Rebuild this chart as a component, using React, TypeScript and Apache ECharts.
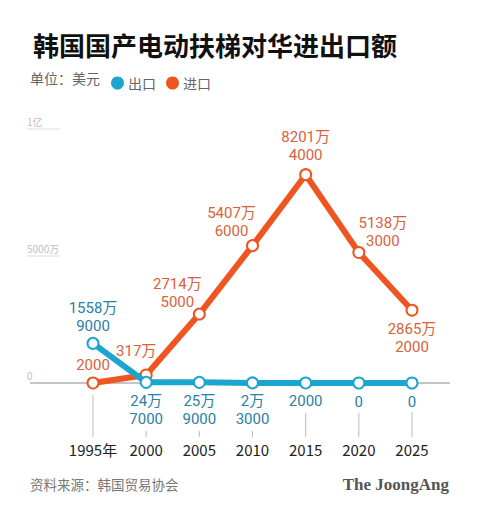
import React, { useEffect, useRef } from "react";
import * as echarts from "echarts";

const years = ["1995", "2000", "2005", "2010", "2015", "2020", "2025"];
const yearTickLabels = ["1995年", "2000", "2005", "2010", "2015", "2020", "2025"];
const exportValues = [15589000, 247000, 259000, 23000, 2000, 0, 0];
const importValues = [2000, 3170000, 27145000, 54076000, 82014000, 51383000, 28652000];
const yTicks = [0, 50000000, 100000000];
const yTickText = ["0", "5000万", "1亿"];

const EXPORT_NAME = "出口";
const IMPORT_NAME = "进口";
const BLUE = "#1ba5cf";
const ORANGE = "#ef5520";
const BLUE_TEXT = "#2a80a6";
const ORANGE_TEXT = "#d9613a";
const FONT = '"Noto Sans CJK SC", "Noto Sans", sans-serif';
const LABEL_FONT = 'Roboto, "Noto Sans CJK SC", sans-serif';

// label placement (layout only)
const exportLabelLayout = [
  { position: "top", distance: 2, offset: [0, 0] },
  { position: "bottom", distance: 3, offset: [0, 0] },
  { position: "bottom", distance: 3, offset: [0, 0] },
  { position: "bottom", distance: 3, offset: [0, 0] },
  { position: "bottom", distance: 3, offset: [0, 0] },
  { position: "bottom", distance: 3, offset: [0, 0] },
  { position: "bottom", distance: 3, offset: [0, 0] },
];
const importLabelLayout = [
  { position: "top", distance: 2, offset: [0, 0] },
  { position: "top", distance: 2, offset: [-10, -6] },
  { position: "top", distance: 2, offset: [-22, 5] },
  { position: "top", distance: 2, offset: [-21, 3] },
  { position: "top", distance: 2, offset: [0, -2] },
  { position: "top", distance: 2, offset: [24, 6] },
  { position: "bottom", distance: 3, offset: [0, 0] },
];
// top of the connector line under each year (layout only)
const connectorTop = [395, 431, 431, 431, 413, 413, 412];

function fmt(v: number): string {
  if (v >= 10000) {
    const w = Math.floor(v / 10000);
    const r = v % 10000;
    return r ? `${w}万\n${r}` : `${w}万`;
  }
  return String(v);
}

function buildData(values: number[], layout: any[], color: string) {
  return values.map((v, i) => ({
    value: v,
    label: {
      show: true,
      position: layout[i].position,
      distance: layout[i].distance,
      offset: layout[i].offset,
      color,
      fontSize: 15,
      lineHeight: 18,
      fontFamily: LABEL_FONT,
      formatter: (p: any) => fmt(p.value),
    },
  }));
}

export default function App() {
  const ref = useRef<HTMLDivElement>(null);
  useEffect(() => {
    if (!ref.current) return;
    const chart = echarts.init(ref.current, null, { renderer: "svg" });
    chart.setOption({
      animation: false,
      backgroundColor: "#ffffff",
      textStyle: { fontFamily: FONT },
      title: {
        text: "韩国国产电动扶梯对华进出口额",
        left: 28,
        top: 26,
        textStyle: { fontSize: 26, fontWeight: "bold", color: "#111", fontFamily: FONT },
      },
      legend: {
        left: 106,
        top: 71,
        icon: "circle",
        itemWidth: 13,
        itemHeight: 13,
        itemGap: 10,
        selectedMode: false,
        textStyle: { color: "#666", fontSize: 14, fontFamily: FONT, padding: [0, 0, 0, -1] },
        data: [
          { name: EXPORT_NAME, itemStyle: { color: BLUE, borderWidth: 0 } },
          { name: IMPORT_NAME, itemStyle: { color: ORANGE, borderWidth: 0 } },
        ],
      },
      grid: { left: 93, right: 68, top: 129, bottom: 128 },
      xAxis: {
        type: "category",
        data: years,
        boundaryGap: false,
        axisLine: { show: false },
        axisTick: { show: false },
        axisLabel: {
          interval: 0,
          margin: 59,
          fontSize: 15,
          color: "#222",
          fontFamily: FONT,
          formatter: (_v: string, i: number) => yearTickLabels[i],
        },
        splitLine: { show: false },
      },
      yAxis: {
        type: "value",
        min: 0,
        max: 100000000,
        interval: 50000000,
        axisLine: { show: false },
        axisTick: { show: false },
        splitLine: { show: false },
        axisLabel: {
          align: "left",
          verticalAlign: "bottom",
          margin: 66,
          padding: [0, 0, 3, 0],
          fontSize: 10,
          color: "#c0c0c0",
          fontFamily: FONT,
          formatter: (v: number) => {
            const i = yTicks.indexOf(v);
            return i >= 0 ? yTickText[i] : "";
          },
        },
      },
      series: [
        {
          name: IMPORT_NAME,
          type: "line",
          data: buildData(importValues, importLabelLayout, ORANGE_TEXT),
          symbol: "circle",
          symbolSize: 11,
          color: ORANGE,
          lineStyle: { color: ORANGE, width: 6 },
          itemStyle: { color: "#fff", borderColor: ORANGE, borderWidth: 2 },
          z: 2,
        },
        {
          name: EXPORT_NAME,
          type: "line",
          data: buildData(exportValues, exportLabelLayout, BLUE_TEXT),
          symbol: "circle",
          symbolSize: 11,
          color: BLUE,
          lineStyle: { color: BLUE, width: 6 },
          itemStyle: { color: "#fff", borderColor: BLUE, borderWidth: 2 },
          z: 3,
        },
      ],
    });

    const y0 = chart.convertToPixel({ yAxisIndex: 0 }, 0) as number;
    const gridLines = yTicks
      .filter((t) => t > 0)
      .map((t) => {
        const y = chart.convertToPixel({ yAxisIndex: 0 }, t) as number;
        return {
          type: "line",
          shape: { x1: 27, y1: y, x2: 60, y2: y },
          style: { stroke: "#dddddd", lineWidth: 1 },
          silent: true,
        };
      });
    const connectors = years.map((yr, i) => {
      const x = chart.convertToPixel({ xAxisIndex: 0 }, yr) as number;
      return {
        type: "line",
        shape: { x1: x, y1: connectorTop[i], x2: x, y2: 437 },
        style: { stroke: "#bbbbbb", lineWidth: 1 },
        silent: true,
      };
    });

    chart.setOption({
      graphic: [
        {
          type: "text",
          x: 30,
          y: 78,
          style: {
            text: "单位：美元",
            fill: "#666",
            font: `14px ${FONT}`,
            verticalAlign: "middle",
          },
        },
        {
          type: "line",
          shape: { x1: 30, y1: y0, x2: 450, y2: y0 },
          style: { stroke: "#8a8a8a", lineWidth: 1 },
          z: 0,
          silent: true,
        },
        ...gridLines,
        ...connectors,
        {
          type: "text",
          x: 30,
          y: 484,
          style: {
            text: "资料来源：韩国贸易协会",
            fill: "#777",
            font: `13.5px ${FONT}`,
            verticalAlign: "middle",
          },
        },
        {
          type: "text",
          x: 449,
          y: 484,
          style: {
            text: "The JoongAng",
            fill: "#555",
            font: `bold 17px "Liberation Serif", "DejaVu Serif", serif`,
            align: "right",
            verticalAlign: "middle",
          },
        },
      ],
    });

    return () => chart.dispose();
  }, []);
  return (
    <div
      ref={ref}
      style={{ position: "fixed", left: 0, top: 0, width: 480, height: 511 }}
    />
  );
}
